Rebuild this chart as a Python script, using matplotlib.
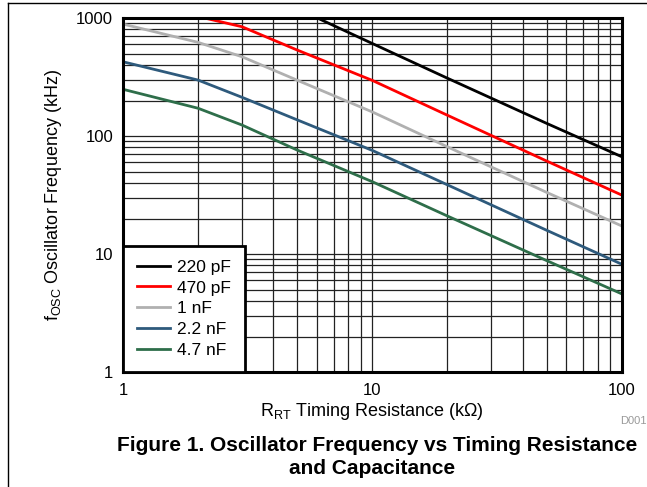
import matplotlib
matplotlib.use("Agg")
from matplotlib import pyplot as plt
from matplotlib.ticker import LogLocator, NullFormatter, FixedLocator, FixedFormatter

plt.rcParams["font.family"] = ["Liberation Sans", "DejaVu Sans"]

# timing resistance (kOhm)
r_kohm = [1, 2, 3, 5, 10, 20, 50, 100]

# oscillator frequency (kHz) per timing capacitor
f_220pf = [3300, 2100, 1700, 1200, 608, 309, 128, 66.8]
f_470pf = [1500, 1030, 844, 535, 296, 150, 61.4, 31.6]
f_1nf = [889, 622, 470, 297, 160, 81, 33.3, 17.3]
f_2_2nf = [426, 298, 213, 137, 75.5, 38.6, 15.9, 8.2]
f_4_7nf = [249, 172, 124, 76, 41, 21, 8.8, 4.6]

series = [
    ("220 pF", f_220pf, "#000000"),
    ("470 pF", f_470pf, "#ff0000"),
    ("1 nF", f_1nf, "#b0b0b0"),
    ("2.2 nF", f_2_2nf, "#2e5a7c"),
    ("4.7 nF", f_4_7nf, "#2e6e4a"),
]

fig = plt.figure(figsize=(6.47, 4.87), dpi=100)
ax = fig.add_axes([0.190, 0.236, 0.771, 0.727])

for label, vals, col in series:
    ax.plot(r_kohm, vals, color=col, lw=2, label=label, zorder=3)

ax.set_xscale("log")
ax.set_yscale("log")
ax.set_xlim(1, 100)
ax.set_ylim(1, 1000)

ax.xaxis.set_major_locator(FixedLocator([1, 10, 100]))
ax.xaxis.set_major_formatter(FixedFormatter(["1", "10", "100"]))
ax.yaxis.set_major_locator(FixedLocator([1, 10, 100, 1000]))
ax.yaxis.set_major_formatter(FixedFormatter(["1", "10", "100", "1000"]))
ax.xaxis.set_minor_locator(LogLocator(base=10, subs=range(2, 10)))
ax.yaxis.set_minor_locator(LogLocator(base=10, subs=range(2, 10)))
ax.xaxis.set_minor_formatter(NullFormatter())
ax.yaxis.set_minor_formatter(NullFormatter())

ax.grid(True, which="both", color="#222222", lw=0.9, zorder=1)
ax.tick_params(which="both", length=0, labelsize=12)
ax.tick_params(axis="x", pad=8)
ax.tick_params(axis="y", pad=7)
for s in ax.spines.values():
    s.set_linewidth(2.2)
    s.set_zorder(4)

ax.set_xlabel("R$_{\\mathregular{RT}}$ Timing Resistance (k\u03a9)", fontsize=13, labelpad=2)
ax.set_ylabel("f$_{\\mathregular{OSC}}$ Oscillator Frequency (kHz)", fontsize=13, labelpad=9)

leg = ax.legend(loc="lower left", borderaxespad=0, fontsize=12.5, handlelength=1.9,
                handletextpad=0.4, labelspacing=0.33, fancybox=False, framealpha=1,
                edgecolor="black", borderpad=0.8)
leg.get_frame().set_linewidth(2)
leg.set_zorder(5)

fig.text(0.999, 0.135, "D001", fontsize=8, color="#999999", ha="right", va="center")
fig.text(0.583, 0.086, "Figure 1. Oscillator Frequency vs Timing Resistance",
         fontsize=15, fontweight="bold", ha="center", va="center")
fig.text(0.575, 0.039, "and Capacitance",
         fontsize=15, fontweight="bold", ha="center", va="center")

# outer frame (left and top edges)
fig.add_artist(plt.Line2D([8 / 647, 8 / 647], [0, 1 - 3 / 487], color="black", lw=1))
fig.add_artist(plt.Line2D([8 / 647, 1], [1 - 3 / 487, 1 - 3 / 487], color="black", lw=1))

plt.savefig("out.png", dpi=100)
